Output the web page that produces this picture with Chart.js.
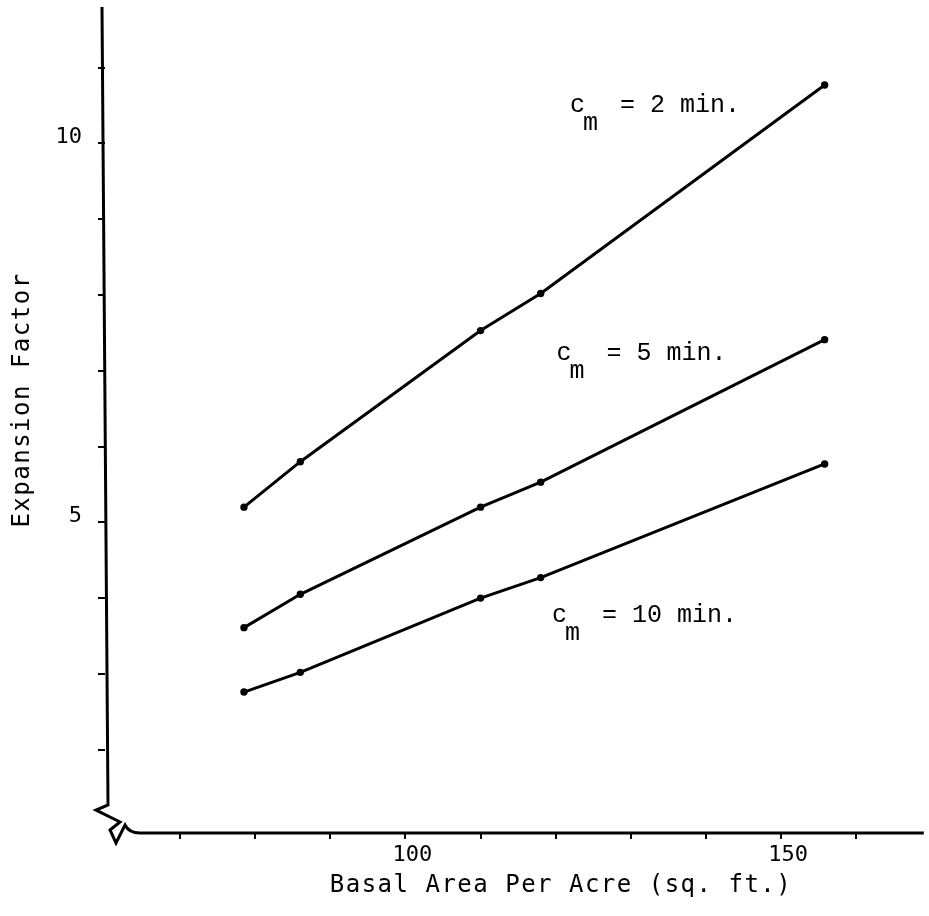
<!DOCTYPE html>
<html>
<head>
<meta charset="utf-8">
<script src="https://cdn.jsdelivr.net/npm/chart.js@4.4.1/dist/chart.umd.min.js"></script>
<style>
  html, body { margin: 0; padding: 0; background: #fff; }
  #wrap { width: 929px; height: 916px; }
</style>
</head>
<body>
<div id="wrap"><canvas id="lineChart"></canvas></div>
<script>
// values
const basalArea = [78.5, 86, 110, 118, 155.8];
const factor2min = [5.2, 5.8, 7.53, 8.02, 10.77];
const factor5min = [3.61, 4.05, 5.2, 5.53, 7.41];
const factor10min = [2.76, 3.02, 4.0, 4.27, 5.77];
const seriesNames = ["2 min.", "5 min.", "10 min."];

const xTicks = [70, 80, 90, 100, 110, 120, 130, 140, 150, 160];
const yTicks = [2, 3, 4, 5, 6, 7, 8, 9, 10, 11];
const xLabelled = [100, 150];
const yLabelled = [5, 10];

// where the "c_m = ..." notes sit, in data units
const noteX = [121.9, 120.1, 119.5];
const noteY = [10.42, 7.14, 3.69];

function toPoints(ys) {
  return basalArea.map((x, i) => ({ x: x, y: ys[i] }));
}

function makeSet(ys) {
  return {
    data: toPoints(ys),
    showLine: true,
    borderColor: "#000",
    backgroundColor: "#000",
    borderWidth: 3,
    pointRadius: 2.2,
    pointHoverRadius: 2.2,
    tension: 0
  };
}

const monoFont = "'DejaVu Sans Mono', monospace";
const noteFont = "'Liberation Mono', monospace";

const decorPlugin = {
  id: "decor",
  afterDraw(chart) {
    const ctx = chart.ctx;
    const a = chart.chartArea;
    const L = a.left, B = a.bottom;
    ctx.save();
    ctx.strokeStyle = "#000";
    ctx.lineWidth = 3;
    ctx.lineJoin = "miter";
    // y axis with the break mark, then x axis
    ctx.beginPath();
    ctx.moveTo(L - 3, a.top);
    ctx.lineTo(L + 3, B - 28);
    ctx.lineTo(L - 9, B - 23);
    ctx.lineTo(L + 15, B - 11);
    ctx.lineTo(L + 5, B - 3);
    ctx.lineTo(L + 11, B + 10);
    ctx.lineTo(L + 20, B - 8);
    ctx.quadraticCurveTo(L + 24, B, L + 35, B);
    ctx.lineTo(a.right, B);
    ctx.stroke();

    // axis titles
    ctx.fillStyle = "#000";
    ctx.font = "24px " + monoFont;
    ctx.letterSpacing = "1.5px";
    ctx.textAlign = "center";
    ctx.textBaseline = "middle";
    ctx.fillText("Basal Area Per Acre (sq. ft.)", 561, 886);
    ctx.save();
    ctx.translate(23, 400);
    ctx.rotate(-Math.PI / 2);
    ctx.fillText("Expansion Factor", 0, 0);
    ctx.restore();

    // c_m notes
    const xs = chart.scales.x, ys = chart.scales.y;
    ctx.letterSpacing = "0px";
    ctx.textAlign = "left";
    ctx.textBaseline = "alphabetic";
    ctx.font = "25px " + noteFont;
    seriesNames.forEach((name, i) => {
      const px = xs.getPixelForValue(noteX[i]);
      const py = ys.getPixelForValue(noteY[i]);
      ctx.fillText("c", px, py);
      ctx.fillText("m", px + 13, py + 18);
      ctx.fillText("= " + name, px + 50, py);
    });
    ctx.restore();
  }
};

const ctx = document.getElementById("lineChart");
const myChart = new Chart(ctx, {
  type: "scatter",
  data: {
    datasets: [makeSet(factor2min), makeSet(factor5min), makeSet(factor10min)]
  },
  options: {
    responsive: true,
    maintainAspectRatio: false,
    animation: false,
    layout: { padding: { top: 7, right: 0, left: 0, bottom: 0 } },
    plugins: { legend: { display: false }, tooltip: { enabled: false } },
    scales: {
      x: {
        type: "linear",
        min: 60,
        max: 169,
        afterFit(scale) {
          scale.height = 83;
          scale.paddingLeft = 0;
          scale.paddingRight = 0;
        },
        afterBuildTicks(scale) { scale.ticks = xTicks.map(v => ({ value: v })); },
        border: { display: false },
        grid: { display: true, drawOnChartArea: false, drawTicks: true, tickLength: 6, color: "#000", lineWidth: 2 },
        ticks: {
          color: "#000",
          font: { family: monoFont, size: 22 },
          padding: 3,
          labelOffset: 7,
          maxRotation: 0,
          autoSkip: false,
          callback: v => xLabelled.includes(v) ? String(v) : ""
        }
      },
      y: {
        type: "linear",
        min: 0.9,
        max: 11.8,
        afterFit(scale) {
          scale.width = 105;
          scale.paddingTop = 0;
          scale.paddingBottom = 0;
        },
        afterBuildTicks(scale) { scale.ticks = yTicks.map(v => ({ value: v })); },
        border: { display: false },
        grid: { display: true, drawOnChartArea: false, drawTicks: true, tickLength: 7, color: "#000", lineWidth: 2 },
        ticks: {
          color: "#000",
          font: { family: monoFont, size: 22 },
          padding: 16,
          labelOffset: -6,
          autoSkip: false,
          callback: v => yLabelled.includes(v) ? String(v) : ""
        }
      }
    }
  },
  plugins: [decorPlugin]
});
</script>
</body>
</html>
